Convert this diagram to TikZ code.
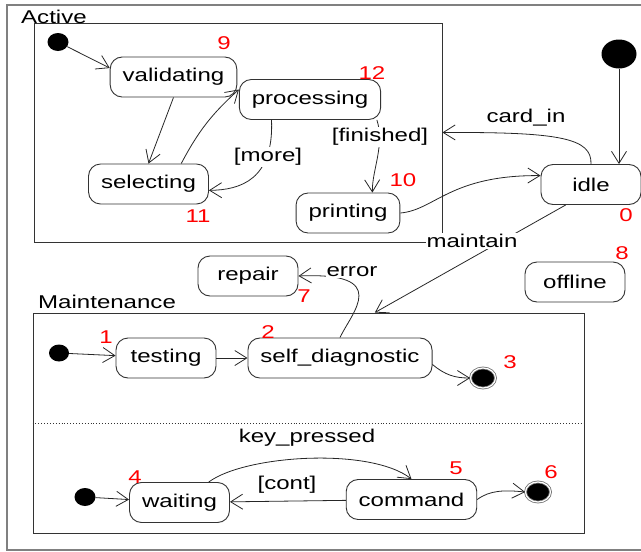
\documentclass[tikz,border=0pt]{standalone}
\usepackage{fontspec}
\setmainfont{Liberation Sans}[FakeStretch=1.3]
\usetikzlibrary{arrows.meta,shapes.geometric}

\tikzset{
  stbox/.style={draw=black!80, line width=0.9pt, rounded corners=12pt, minimum width=100pt, minimum height=40pt, inner xsep=12.5pt, inner ysep=0pt},
  initdot/.style={ellipse, fill=black, inner sep=0pt, minimum width=21pt, minimum height=18pt},
  finaldot/.style={ellipse, fill=black, draw=black!55, line width=0.8pt, double=white, double distance=1.2pt, inner sep=0pt, minimum width=25pt, minimum height=20pt},
  trans/.style={draw=black!85, line width=0.8pt, -{Straight Barb[length=12pt,width=15pt]}},
  tag/.style={text=red, inner sep=0pt},
  guard/.style={fill=white, inner sep=1pt},
  region/.style={draw=black!80, line width=0.9pt, inner sep=0pt},
}

\begin{document}
\begin{tikzpicture}[x=1pt,y=-1pt,font=\fontsize{18.5}{22}\selectfont]
  \useasboundingbox (0,0) rectangle (641,552);
  \draw[black!50, line width=1.5pt] (641,5) -- (7,5) -- (7,550) -- (641,550);

  \node[region, minimum width=408pt, minimum height=219pt] (active) at (238,132.5) {};
  \node[anchor=base west, inner sep=0pt] (activename) at (21,23) {Active};
  \node[region, minimum width=551pt, minimum height=220pt] (maint) at (308.5,423) {};
  \node[anchor=base west, inner sep=0pt] (maintname) at (38,308) {Maintenance};
  \draw[black!80, dotted, line width=0.9pt] (maint.west) -- (maint.east);

  \node[initdot] (ini1) at (58,42) {};
  \node[stbox] (valid) at (173.5,77) {validating};
  \node[stbox] (proc) at (310,99.5) {processing};
  \node[stbox] (select) at (148.5,184) {selecting};
  \node[stbox] (print) at (348,213) {printing};
  \node[stbox] (idle) at (591,184.5) {idle};
  \node[initdot, minimum width=35pt, minimum height=29pt] (idot) at (619,54) {};
  \node[stbox] (repair) at (248,276) {repair};
  \node[stbox] (offline) at (575,282) {offline};

  \node[initdot, minimum width=20pt, minimum height=17pt] (ini2) at (59,353) {};
  \node[stbox] (test) at (166,358) {testing};
  \node[stbox] (sd) at (340,358) {self\_diagnostic};
  \node[finaldot] (fin3) at (483,378) {};

  \node[initdot] (ini3) at (85,497) {};
  \node[stbox] (wait) at (179.5,502.5) {waiting};
  \node[stbox] (cmd) at (411.5,499.5) {command};
  \node[finaldot] (fin6) at (538,492) {};

  \draw[trans] (ini1) -- (valid.172);
  \draw[trans] (valid.south) -- (select.north);
  \draw[trans] (select.32) to[bend left=10] (proc.172);
  \draw[trans] (proc.208) .. controls (274,180) and (240,190) .. (select.-6);
  \draw[trans] (proc.-17) .. controls (385,145) and (372,170) .. (print.40);
  \draw[trans] (print.east) .. controls (435,210) and (450,175) .. (idle.170);
  \draw[trans] (idle.north) .. controls (592,138) and (560,132) .. (active.east);
  \draw[trans] (idot.south) -- (idot.south |- idle.north);
  \draw[trans] (idle.219) -- (maint.59);
  \draw[trans] (sd.north) .. controls (352,312) and (392,272) .. (repair.east);

  \draw[trans] (ini2) -- (test);
  \draw[trans] (test) -- (sd);
  \draw[trans] (sd.-4) .. controls (445,375) and (455,378) .. (fin3.west);
  \draw[trans] (ini3) -- (wait);
  \draw[trans] (wait.35) .. controls (245,455) and (370,447) .. (cmd.north);
  \draw[trans] (cmd) -- (wait);
  \draw[trans] (cmd.east) .. controls (490,490) and (505,490) .. (fin6.west);

  \node[guard] (lmore) at (268,157) {[more]};
  \node[guard] (lfinished) at (380,137) {[finished]};
  \node[guard] (lcardin) at (526,118) {card\_in};
  \node[guard] (lmaintain) at (472,241) {maintain};
  \node[guard] (lerror) at (352,272) {error};
  \node[guard] (lkey) at (307,438) {key\_pressed};
  \node[guard] (lcont) at (287,485) {[cont]};

  \node[tag] at (224,43) {9};
  \node[tag] at (198,216) {11};
  \node[tag] at (372,73) {12};
  \node[tag] at (403,180) {10};
  \node[tag] at (626,215) {0};
  \node[tag] at (622,253) {8};
  \node[tag] at (304,296) {7};
  \node[tag] at (106,337) {1};
  \node[tag] at (268,332) {2};
  \node[tag] at (510,362) {3};
  \node[tag] at (135,477) {4};
  \node[tag] at (456,468) {5};
  \node[tag] at (551,472) {6};
\end{tikzpicture}
\end{document}
